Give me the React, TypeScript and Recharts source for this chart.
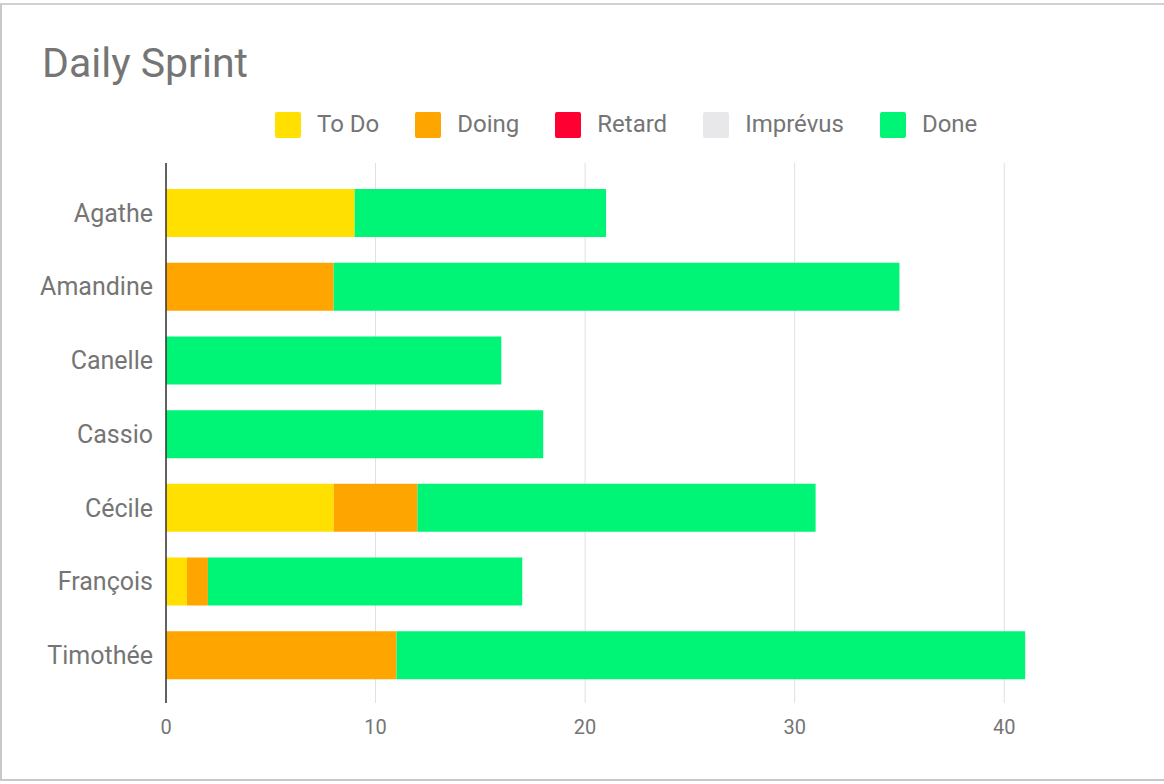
import React from "react";
import { BarChart, Bar, XAxis, YAxis, CartesianGrid } from "recharts";

// Team members (one bar each)
const members = ["Agathe", "Amandine", "Canelle", "Cassio", "Cécile", "François", "Timothée"];

// Task counts per status, same order as members
const todo = [9, 0, 0, 0, 8, 1, 0];
const doing = [0, 8, 0, 0, 4, 1, 11];
const retard = [0, 0, 0, 0, 0, 0, 0];
const imprevus = [0, 0, 0, 0, 0, 0, 0];
const done = [12, 27, 16, 18, 19, 15, 30];

const xTicks = [0, 10, 20, 30, 40];
const X_MAX = 45;

const SERIES = [
  { key: "todo", name: "To Do", color: "#FFE000", values: todo },
  { key: "doing", name: "Doing", color: "#FFA500", values: doing },
  { key: "retard", name: "Retard", color: "#FF0033", values: retard },
  { key: "imprevus", name: "Imprévus", color: "#E8E8EA", values: imprevus },
  { key: "done", name: "Done", color: "#00F576", values: done },
];

const data = members.map((name, i) => {
  const row: Record<string, string | number> = { name };
  SERIES.forEach((s) => {
    row[s.key] = s.values[i];
  });
  return row;
});

const FONT = "Roboto, 'Noto Sans', sans-serif";
const TEXT_GRAY = "#757575";

function SprintLegend() {
  return (
    <div
      style={{
        position: "absolute",
        left: 275,
        top: 111,
        height: 27,
        display: "flex",
        alignItems: "center",
        fontFamily: FONT,
        fontSize: 24,
        color: TEXT_GRAY,
      }}
    >
      {SERIES.map((s) => (
        <div key={s.key} style={{ display: "flex", alignItems: "center", marginRight: 36 }}>
          <span
            style={{
              width: 26,
              height: 26,
              borderRadius: 2,
              background: s.color,
              display: "inline-block",
              marginRight: 16,
            }}
          />
          <span style={{ lineHeight: "27px" }}>{s.name}</span>
        </div>
      ))}
    </div>
  );
}

// grid lines only at the labelled ticks (no line at the domain end)
const gridAtTicks = (props: any) => {
  const scale = props?.xAxis?.scale;
  if (typeof scale === "function") return xTicks.map((t) => scale(t));
  if (scale && typeof scale.map === "function") return xTicks.map((t) => scale.map(t));
  const off = props?.offset ?? {};
  const left = off.left ?? 0;
  const w = off.width ?? 0;
  return xTicks.map((t) => left + (t / X_MAX) * w);
};

export default function App() {
  return (
    <div
      style={{
        position: "absolute",
        left: 0,
        top: 0,
        width: 1164,
        height: 784,
        background: "#fff",
        overflow: "hidden",
      }}
    >
      {/* screenshot frame */}
      <div
        style={{
          position: "absolute",
          left: 0,
          top: 3,
          width: 1164,
          height: 778,
          borderTop: "2px solid #d0d0d0",
          borderLeft: "2px solid #c8c8c8",
          borderBottom: "2px solid #c8c8c8",
          boxSizing: "border-box",
        }}
      />
      <div
        style={{
          position: "absolute",
          left: 42,
          top: 43,
          fontFamily: FONT,
          fontSize: 41,
          lineHeight: "40px",
          color: TEXT_GRAY,
        }}
      >
        Daily Sprint
      </div>
      <SprintLegend />
      <div style={{ position: "absolute", left: 0, top: 0 }}>
        <BarChart
          width={1164}
          height={784}
          data={data}
          layout="vertical"
          margin={{ top: 163, right: 55, bottom: 0, left: 0 }}
        >
          <CartesianGrid
            horizontal={false}
            stroke="#e0e0e0"
            verticalCoordinatesGenerator={gridAtTicks}
          />
          <XAxis
            type="number"
            domain={[0, X_MAX]}
            ticks={xTicks}
            height={81}
            axisLine={false}
            tickLine={false}
            tickSize={0}
            tickMargin={17}
            tick={{ fill: TEXT_GRAY, fontSize: 20, fontFamily: FONT }}
          />
          <YAxis
            type="category"
            dataKey="name"
            width={166}
            padding={{ top: 13, bottom: 11 }}
            axisLine={{ stroke: "#333", strokeWidth: 1.5 }}
            tickLine={false}
            tickSize={0}
            tickMargin={13}
            tick={{ fill: TEXT_GRAY, fontSize: 25, fontFamily: FONT }}
          />
          {SERIES.map((s) => (
            <Bar
              key={s.key}
              dataKey={s.key}
              name={s.name}
              stackId="a"
              fill={s.color}
              barSize={48}
              isAnimationActive={false}
            />
          ))}
        </BarChart>
      </div>
    </div>
  );
}
